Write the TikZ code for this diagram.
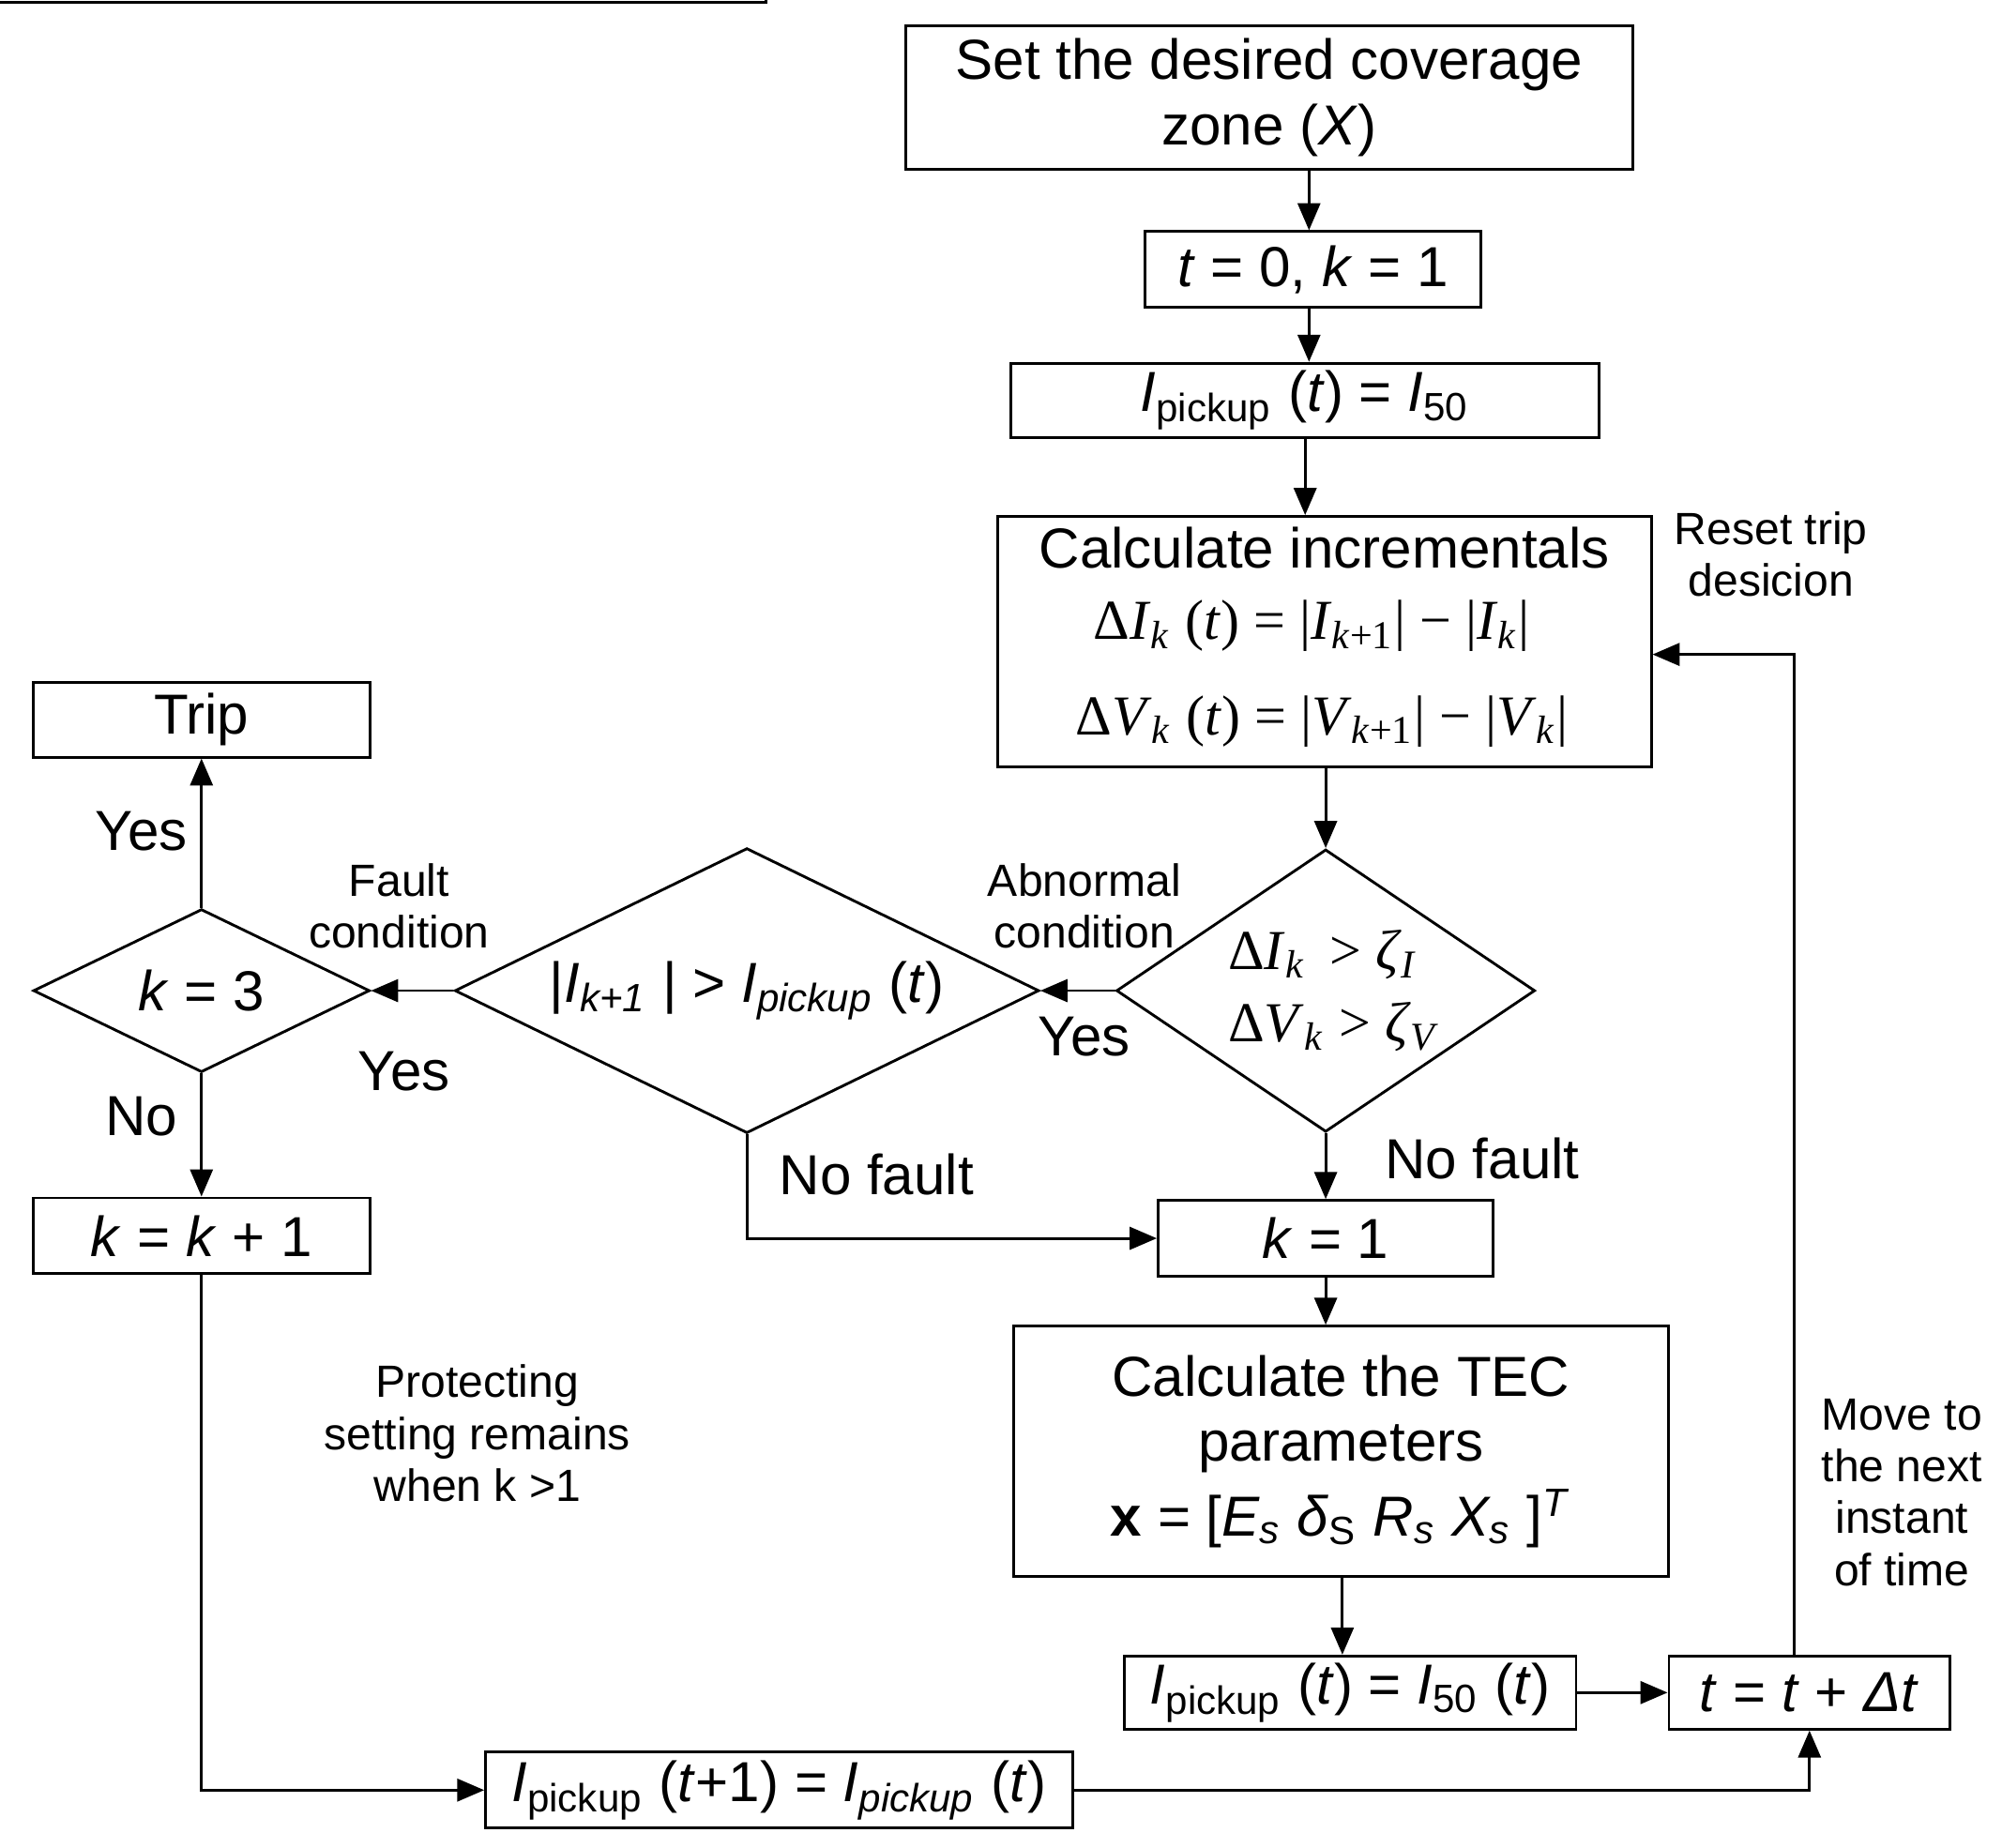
\documentclass[tikz,border=0pt]{standalone}
\usepackage{fontspec}
\setmainfont{Liberation Sans}
\newfontfamily\serf{Liberation Serif}
\usetikzlibrary{shapes.geometric,arrows.meta}
\begin{document}
\begin{tikzpicture}[x=0.01cm,y=-0.01cm,
  bx/.style={draw,line width=0.6pt,inner sep=0pt,font=\fontsize{12.5}{14.5}\selectfont,align=center},
  lb/.style={font=\fontsize{10}{11.5}\selectfont,align=center},
  bl/.style={font=\fontsize{12.5}{14}\selectfont,align=center},
  ar/.style={-{Triangle[length=6pt,width=5pt]},line width=0.6pt},
  ln/.style={line width=0.6pt}]
\useasboundingbox (0,0) rectangle (1560,1440);
\node[bx,minimum width=566\pgflinewidth] at (0,0) {};
\newcommand\bxat[6]{\node[bx,minimum width=#3*0.01cm,minimum height=#4*0.01cm] (#1) at (#2) {#5};}
\node[bx,minimum width=5.66cm,minimum height=1.12cm] (set) at (989,76) {Set the desired coverage\\zone (\textit{X})};
\node[bx,minimum width=2.62cm,minimum height=0.59cm] (t0) at (1023,210) {\textit{t} = 0, \textit{k} = 1};
\node[bx,minimum width=4.58cm,minimum height=0.58cm] (ip) at (1017,312) {\textit{I}\textsubscript{pickup} (\textit{t}) = \textit{I}\textsubscript{50}};
\node[bx,minimum width=5.09cm,minimum height=1.95cm] (inc) at (1032,500) {};
\node[bx,draw=none,anchor=north] at (1032,410) {Calculate incrementals};
\node[font=\serf\fontsize{12.5}{14}\selectfont] at (1022,488) {Δ\textit{I}\textsubscript{\textit{k}} (\textit{t}) = |\textit{I}\textsubscript{\textit{k}+1}| − |\textit{I}\textsubscript{\textit{k}}|};
\node[font=\serf\fontsize{12.5}{14}\selectfont] at (1030,562) {Δ\textit{V}\textsubscript{\textit{k}} (\textit{t}) = |\textit{V}\textsubscript{\textit{k}+1}| − |\textit{V}\textsubscript{\textit{k}}|};
\node[draw,line width=0.6pt,diamond,aspect=1.48,minimum width=3.26cm,minimum height=2.2cm,inner sep=0pt] (d1) at (1033,772) {};
\node[font=\serf\fontsize{12.5}{14}\selectfont,align=left] at (1040,772) {Δ\textit{I}\textsubscript{\textit{k}} \,> \textit{ζ}\textsubscript{\textit{I}}\\[2pt]Δ\textit{V}\textsubscript{\textit{k}} > \textit{ζ}\textsubscript{\textit{V}}};
\node[draw,line width=0.6pt,diamond,aspect=2.07,minimum width=4.55cm,minimum height=2.22cm,inner sep=0pt] (d2) at (582,772) {};
\node[bl] at (582,772) {|\textit{I}\textsubscript{\textit{k+1}} | > \textit{I}\textsubscript{\textit{pickup}} (\textit{t})};
\node[draw,line width=0.6pt,diamond,aspect=2.06,minimum width=2.62cm,minimum height=1.27cm,inner sep=0pt] (d3) at (157,772) {};
\node[bl] at (157,772) {\textit{k} = 3};
\node[bx,minimum width=2.62cm,minimum height=0.58cm] (trip) at (157,561) {Trip};
\node[bx,minimum width=2.62cm,minimum height=0.59cm] (kk) at (157,963) {\textit{k} = \textit{k} + 1};
\node[bx,minimum width=2.61cm,minimum height=0.59cm] (k1) at (1033,965) {\textit{k} = 1};
\node[bx,minimum width=5.1cm,minimum height=1.95cm] (tec) at (1045,1131) {Calculate the TEC\\parameters\\[2pt]\textbf{x} = [\textit{E\textsubscript{s}} \textit{δ}\textsubscript{S} \textit{R\textsubscript{s}} \textit{X\textsubscript{s}} ]\textsuperscript{\textit{T}}};
\node[bx,minimum width=3.52cm,minimum height=0.57cm] (ip50) at (1052,1319) {\textit{I}\textsubscript{pickup} (\textit{t}) = \textit{I}\textsubscript{50} (\textit{t})};
\node[bx,minimum width=2.19cm,minimum height=0.57cm] (tt) at (1410,1319) {\textit{t} = \textit{t} + \textit{Δt}};
\node[bx,minimum width=4.57cm,minimum height=0.59cm] (ip1) at (607,1395) {\textit{I}\textsubscript{pickup} (\textit{t}+1) = \textit{I}\textsubscript{\textit{pickup}} (\textit{t})};
% connectors
\draw[ar] (set.south -| 1020,0) -- (t0.north -| 1020,0);
\draw[ar] (t0.south -| 1020,0) -- (ip.north -| 1020,0);
\draw[ar] (ip.south -| 1017,0) -- (inc.north -| 1017,0);
\draw[ar] (inc.south -| d1.north) -- (d1.north);
\draw[ar] (d1.west) -- (d2.east);
\draw[ar] (d2.west) -- (d3.east);
\draw[ar] (d3.north) -- (trip.south);
\draw[ar] (d3.south) -- (kk.north);
\draw[ar] (d1.south) -- (k1.north);
\draw[ar] (d2.south) |- (k1.west);
\draw[ar] (k1.south) -- (tec.north -| k1.south);
\draw[ar] (tec.south -| 1046,0) -- (ip50.north -| 1046,0);
\draw[ar] (ip50.east) -- (tt.west);
\coordinate (rc) at (1398,510);
\draw[ar] (tt.north -| rc) -- (rc) -- (inc.east |- rc);
\draw[ar] (kk.south) |- (ip1.west);
\draw[ar] (ip1.east) -| (tt.south);
% labels
\node[lb] at (1380,432) {Reset trip\\desicion};
\node[lb] at (845,706) {Abnormal\\condition};
\node[bl] at (845,808) {Yes};
\node[bl] at (1155,903) {No fault};
\node[lb] at (311,706) {Fault\\condition};
\node[bl] at (315,835) {Yes};
\node[bl] at (110,648) {Yes};
\node[bl] at (110,870) {No};
\node[bl] at (683,915) {No fault};
\node[lb] at (372,1117) {Protecting\\setting remains\\when k >1};
\node[lb] at (1482,1163) {Move to\\the next\\instant\\of time};
\end{tikzpicture}
\end{document}
